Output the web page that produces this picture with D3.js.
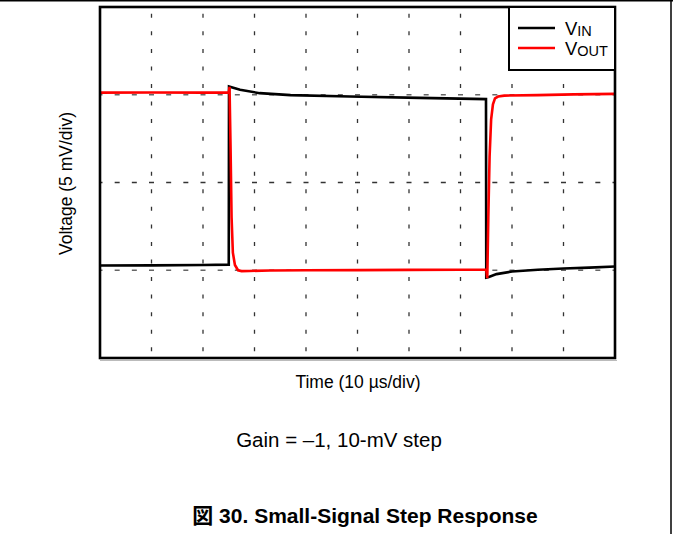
<!DOCTYPE html>
<html lang="en">
<head>
<meta charset="UTF-8">
<title>Small-Signal Step Response</title>
<style>
    body {
        margin: 0;
        background-color: #ffffff;
        font-family: "Liberation Sans", Arial, sans-serif;
    }
</style>
</head>
<body>
<div id="chart"></div>
<script src="https://d3js.org/d3.v7.min.js"></script>
<script>
// time in us (10 us/div), voltage in mV (5 mV/div)
const vinTime = [0, 10, 20, 25.0, 25.05, 27.2, 31, 37, 48.5, 62, 74.95, 75.0, 75.5, 77, 80, 85, 90, 95, 100];
const vinVolt = [-4.73, -4.72, -4.70, -4.68, 5.47, 5.28, 5.09, 4.98, 4.90, 4.82, 4.75, -5.42, -5.38, -5.22, -5.07, -4.97, -4.90, -4.85, -4.79];

const voutTime = [0, 10, 20, 25.0, 25.15, 25.35, 25.55, 25.8, 26.2, 26.8, 27.5, 29, 33, 40, 50, 60, 70, 75.0, 75.2, 75.4, 75.65, 75.95, 76.3, 76.7, 77.3, 78.5, 85, 92, 100];
const voutVolt = [5.12, 5.13, 5.12, 5.12, 5.45, 2.0, -2.0, -4.0, -4.7, -5.0, -5.05, -5.04, -5.01, -5.0, -4.99, -4.98, -4.97, -4.96, -5.45, -2.0, 1.5, 3.6, 4.45, 4.8, 4.9, 4.95, 4.98, 5.02, 5.05];

const xTicks = [10, 20, 30, 40, 50, 60, 70, 80, 90];
const yTicks = [-5, 0, 5];
const legendNames = ["V", "V"];
const legendSubs = ["IN", "OUT"];
const legendColors = ["#000000", "#ff0000"];

const W = 673, H = 534;
const pLeft = 100, pRight = 615, pTop = 7, pBottom = 358;

const svg = d3.select("#chart").append("svg")
    .attr("width", W)
    .attr("height", H);

const x = d3.scaleLinear().domain([0, 100]).range([pLeft, pRight]);
const y = d3.scaleLinear().domain([-10, 10]).range([pBottom, pTop]);

// page frame
svg.append("line").attr("x1", 0).attr("x2", W).attr("y1", 0.75).attr("y2", 0.75)
    .attr("stroke", "#000").attr("stroke-width", 1.5);
svg.append("line").attr("x1", 671).attr("x2", 671).attr("y1", 0).attr("y2", H)
    .attr("stroke", "#000").attr("stroke-width", 1.5);

// grid
const hPeriod = (x(10) - x(0)) / 3;
const vPeriod = (y(0) - y(5)) / 5;
svg.append("g").selectAll("line").data(xTicks).join("line")
    .attr("x1", d => x(d)).attr("x2", d => x(d))
    .attr("y1", pTop).attr("y2", pBottom)
    .attr("stroke", "#333").attr("stroke-width", 1.3)
    .attr("stroke-dasharray", `0,${(vPeriod - 4) / 2},4,${(vPeriod - 4) / 2}`);
svg.append("g").selectAll("line").data(yTicks).join("line")
    .attr("x1", pLeft).attr("x2", pRight)
    .attr("y1", d => y(d)).attr("y2", d => y(d))
    .attr("stroke", d => d === 0 ? "#333" : "#666").attr("stroke-width", 1.3)
    .attr("stroke-dasharray", `2.5,${hPeriod - 5},2.5,0`);

// traces
const line = d3.line().x(d => x(d[0])).y(d => y(d[1]));
svg.append("path")
    .datum(d3.zip(vinTime, vinVolt))
    .attr("d", line)
    .attr("fill", "none")
    .attr("stroke", "#000")
    .attr("stroke-width", 2.6);
svg.append("path")
    .datum(d3.zip(voutTime, voutVolt))
    .attr("d", line)
    .attr("fill", "none")
    .attr("stroke", "#ff0000")
    .attr("stroke-width", 2.6);

// plot frame
svg.append("line").attr("x1", pLeft).attr("x2", 617).attr("y1", 360.5).attr("y2", 360.5)
    .attr("stroke", "#bbb").attr("stroke-width", 1);
svg.append("rect")
    .attr("x", pLeft).attr("y", pTop)
    .attr("width", pRight - pLeft).attr("height", pBottom - pTop)
    .attr("fill", "none").attr("stroke", "#000").attr("stroke-width", 2.6);

// legend
const legend = svg.append("g");
legend.append("rect")
    .attr("x", 509).attr("y", pTop).attr("width", pRight - 509).attr("height", 63)
    .attr("fill", "#fff").attr("stroke", "#000").attr("stroke-width", 2);
legendNames.forEach((n, i) => {
    const ly = 28 + i * 20;
    legend.append("line")
        .attr("x1", 518).attr("x2", 555).attr("y1", ly).attr("y2", ly)
        .attr("stroke", legendColors[i]).attr("stroke-width", 2.6);
    const t = legend.append("text")
        .attr("x", 565).attr("y", ly + 6.5)
        .attr("font-size", "18.5px").attr("fill", "#000")
        .text(n);
    t.append("tspan").attr("font-size", "14.5px").attr("dy", 1.5).text(legendSubs[i]);
});

// labels
svg.append("text")
    .attr("transform", "translate(72,183.5) rotate(-90)")
    .attr("text-anchor", "middle")
    .attr("font-size", "17.5px")
    .text("Voltage (5 mV/div)");
svg.append("text")
    .attr("x", 358).attr("y", 388)
    .attr("text-anchor", "middle")
    .attr("font-size", "17.5px")
    .text("Time (10 \u00b5s/div)");
svg.append("text")
    .attr("x", 339).attr("y", 447)
    .attr("text-anchor", "middle")
    .attr("font-size", "20.5px")
    .text("Gain = \u20131, 10-mV step");
svg.append("text")
    .attr("x", 365).attr("y", 523)
    .attr("text-anchor", "middle")
    .attr("font-size", "21px")
    .attr("font-weight", "bold")
    .style("font-family", "'Liberation Sans', 'Noto Sans CJK JP', sans-serif")
    .text("\u56f3 30. Small-Signal Step Response");
</script>
</body>
</html>
